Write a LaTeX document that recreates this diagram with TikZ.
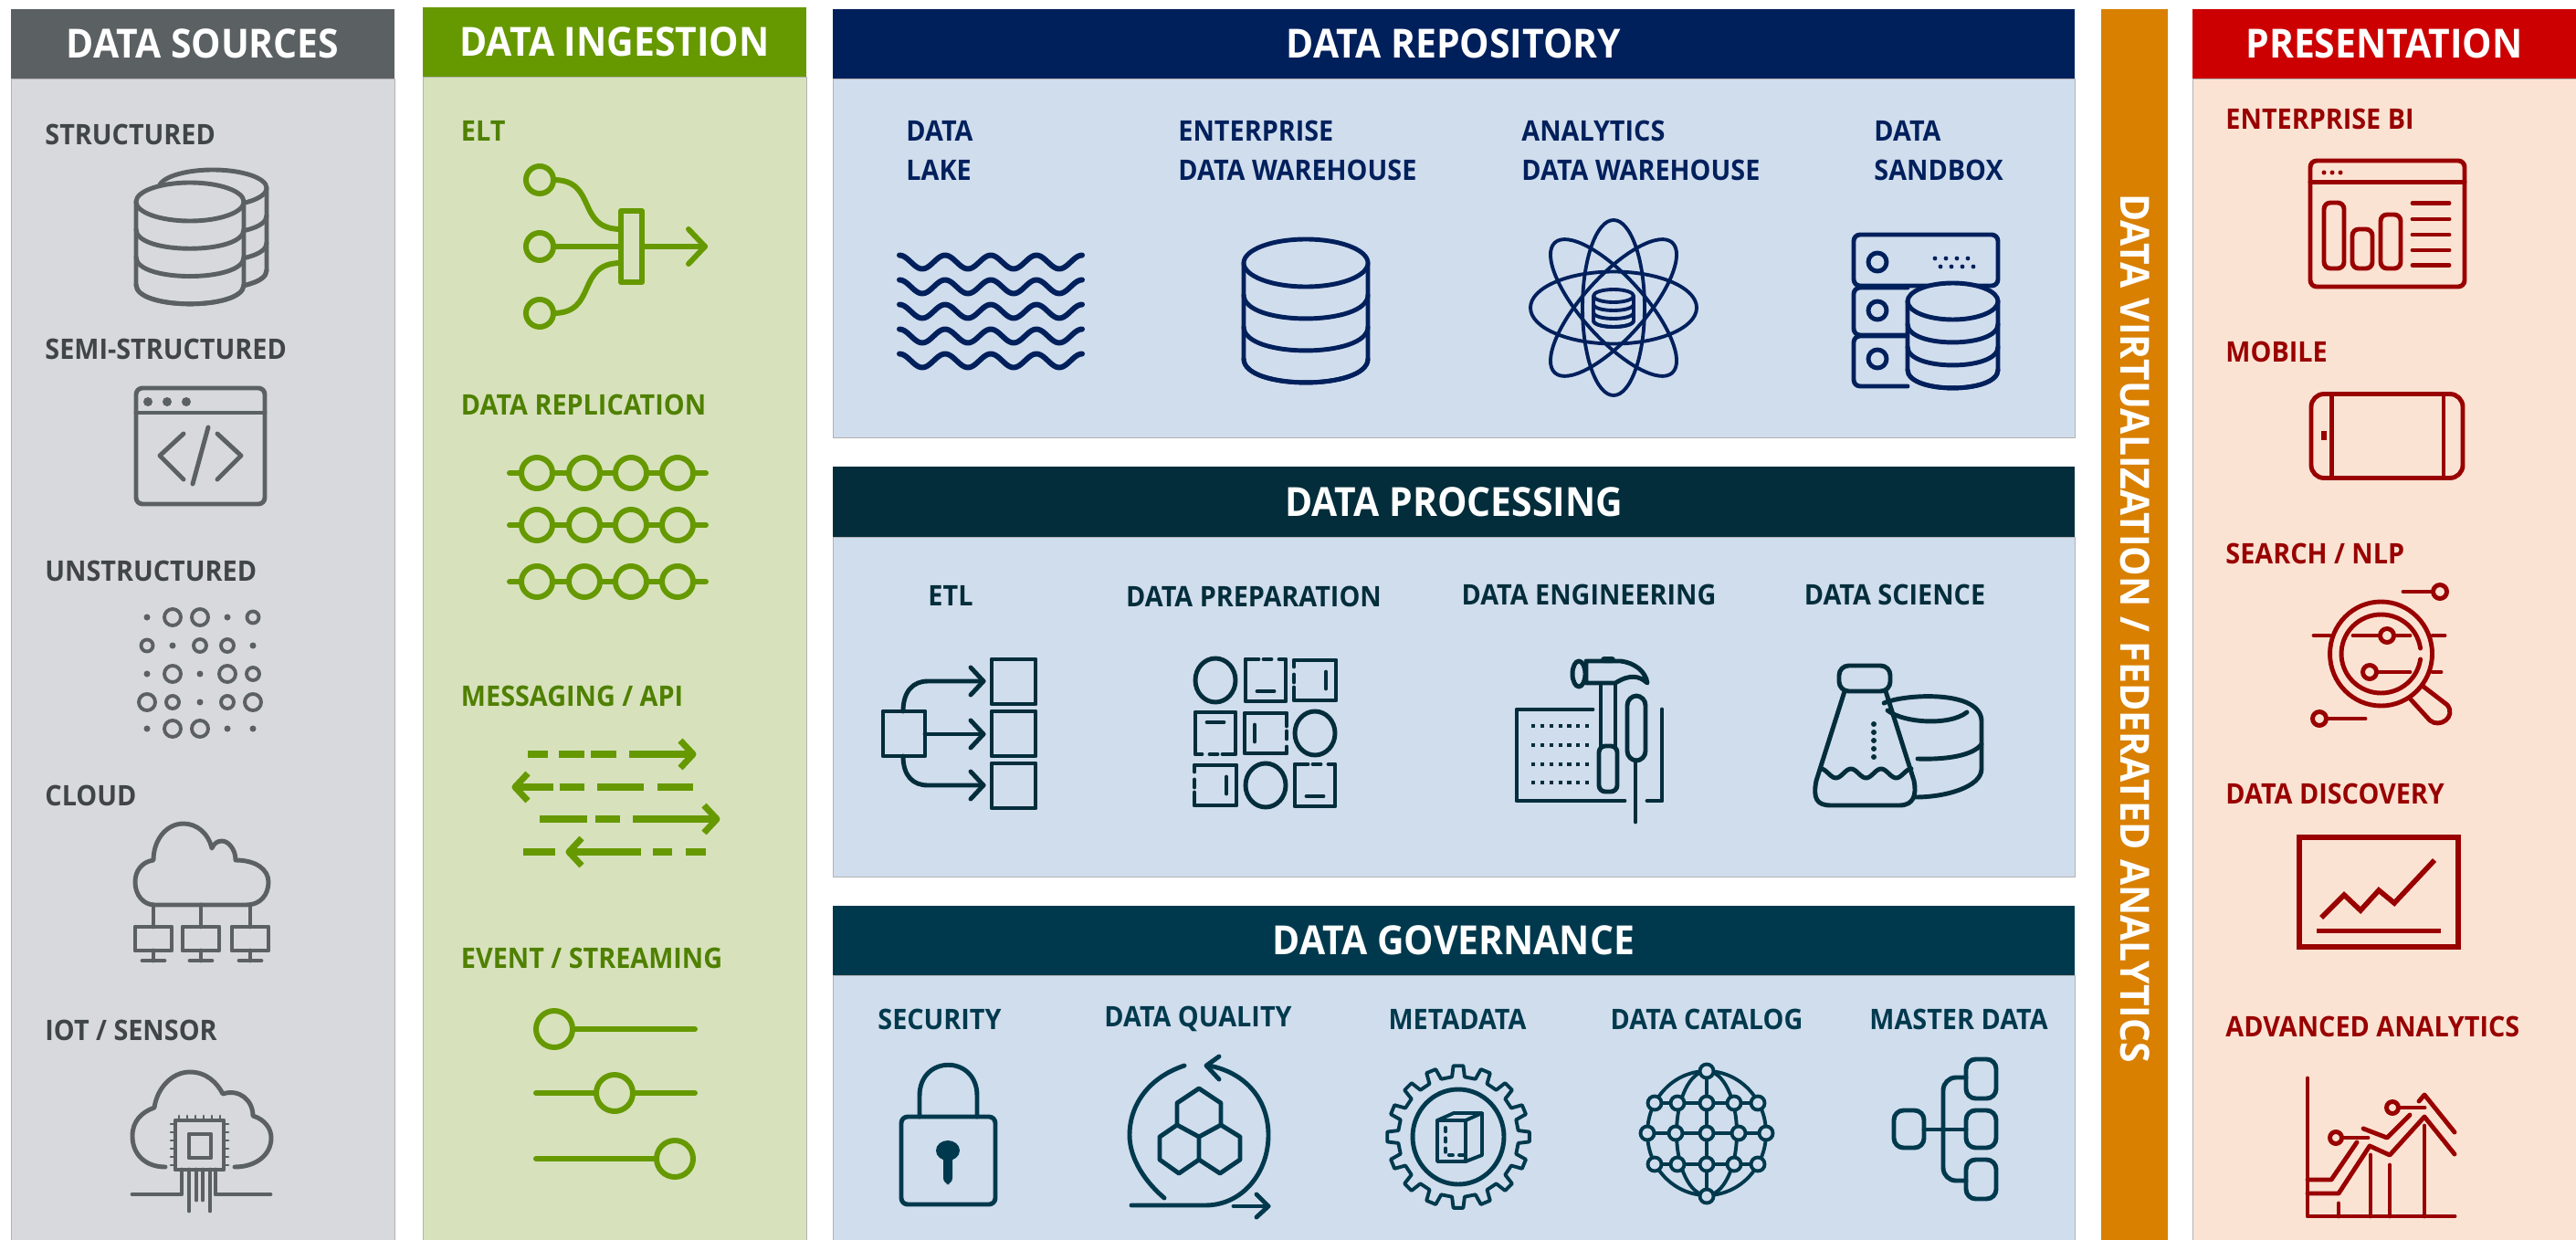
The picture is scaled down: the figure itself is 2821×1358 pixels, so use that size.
\documentclass[tikz,border=0pt]{standalone}
\usepackage{fontspec}
\setmainfont{Open Sans}
\newfontfamily\hdrfont{Open Sans}[FakeStretch=0.93]
\newfontfamily\lblfont{Open Sans}[FakeStretch=0.93]
\definecolor{srcdark}{HTML}{5B6063}
\definecolor{srcbody}{HTML}{D8D9DC}
\definecolor{srctext}{HTML}{404547}
\definecolor{ingdark}{HTML}{669900}
\definecolor{ingbody}{HTML}{D7E2BC}
\definecolor{ingtext}{HTML}{4F8000}
\definecolor{repdark}{HTML}{00205C}
\definecolor{midbody}{HTML}{D0DDED}
\definecolor{prodark}{HTML}{032D3B}
\definecolor{govdark}{HTML}{00394D}
\definecolor{virdark}{HTML}{D98000}
\definecolor{predark}{HTML}{CC0000}
\definecolor{prebody}{HTML}{FBE3D3}
\definecolor{pretext}{HTML}{990000}
\tikzset{
    hdr/.style={text=white, inner sep=0pt, font=\hdrfont\bfseries\fontsize{12.5}{14}\selectfont},
    lbl/.style={inner sep=0pt, anchor=west, font=\lblfont\bfseries\fontsize{8.8}{10}\selectfont},
    clbl/.style={lbl, anchor=center},
    panel/.style={draw=black!30, line width=.25pt},
    icon/.style={line width=1.4pt, line join=round, line cap=round},
}
% cylinder: [options]{cx}{top}{rx}{ry}{gap}{bands}
\newcommand{\dbcyl}[7][]{%
    \filldraw[#1] ({#2-#4},#3) -- ({#2-#4},{#3+#6*#7})
        .. controls ({#2-#4},{#3+#6*#7+1.33*#5}) and ({#2+#4},{#3+#6*#7+1.33*#5}) .. ({#2+#4},{#3+#6*#7})
        -- ({#2+#4},#3);
    \filldraw[#1] (#2,#3) ellipse ({#4} and {#5});
    \foreach \k in {1,...,#7} {
        \draw ({#2-#4},{#3+\k*#6})
            .. controls ({#2-#4},{#3+\k*#6+1.33*#5}) and ({#2+#4},{#3+\k*#6+1.33*#5}) .. ({#2+#4},{#3+\k*#6});
    }
}
\begin{document}
\begin{tikzpicture}[x=0.01cm, y=-0.01cm]
\useasboundingbox (0,0) rectangle (2821,1358);

% panels
\fill[white] (0,0) rectangle (2821,1358);
\draw[panel, fill=srcbody] (12,86) rectangle (432,1358);
\draw[panel, fill=ingbody] (463,84) rectangle (883,1358);
\draw[panel, fill=midbody] (912,86) rectangle (2272,479);
\draw[panel, fill=midbody] (912,588) rectangle (2272,960);
\draw[panel, fill=midbody] (912,1068) rectangle (2272,1358);
\draw[panel, fill=prebody] (2401,86) rectangle (2821,1358);
\fill[virdark] (2301,10) rectangle (2374,1358);

% headers
\node[hdr, fill=srcdark, minimum width=4.2cm, minimum height=.76cm] (srchead) at (222,48) {DATA SOURCES};
\node[hdr, fill=ingdark, minimum width=4.2cm, minimum height=.76cm] (inghead) at (673,46) {DATA INGESTION};
\node[hdr, fill=repdark, minimum width=13.6cm, minimum height=.76cm] (rephead) at (1592,48) {DATA REPOSITORY};
\node[hdr, fill=prodark, minimum width=13.6cm, minimum height=.77cm] (prohead) at (1592,549.5) {DATA PROCESSING};
\node[hdr, fill=govdark, minimum width=13.6cm, minimum height=.76cm] (govhead) at (1592,1030) {DATA GOVERNANCE};
\node[hdr, fill=predark, minimum width=4.2cm, minimum height=.76cm] (prehead) at (2611,48) {PRESENTATION};
\node[hdr, rotate=-90] (virhead) at (2338,688) {DATA VIRTUALIZATION / FEDERATED ANALYTICS};

% data sources
\begin{scope}[icon, color=srcdark, every node/.style={lbl, text=srctext}]
\node (structured) at (47,147) {STRUCTURED};
\node (semi) at (47,382) {SEMI-STRUCTURED};
\node (unstructured) at (47,625) {UNSTRUCTURED};
\node (cloud) at (47,871) {CLOUD};
\node (iot) at (47,1128) {IOT / SENSOR};
\dbcyl[fill=srcbody]{233}{206}{59}{20}{30}{3}
\dbcyl[fill=srcbody]{208}{221}{59}{21}{30.3}{3}
\draw[rounded corners=2pt] (149,425) rectangle (290,552);
\draw (149,452) -- (290,452);
\foreach \x in {162,183,204} \fill (\x,440) circle (5);
\draw (201,475) -- (175,499) -- (201,525);
\draw (238,475) -- (264,499) -- (238,525);
\draw (228,468) -- (211,530);
\foreach \x/\y/\r in {189/676/9,219/676/9,277/676/6.5,161/707/6.5,219/707/7,249/707/7,
    189/738/9,249/738/9,277/738/7,161/769/9,189/769/7,249/769/7,277/769/9,189/798/9,219/798/9}
    \draw[line width=1.1pt] (\x,\y) circle (\r);
\foreach \x/\y in {161/676,249/676,189/707,277/707,161/738,219/738,219/769,161/798,249/798,277/798}
    \fill (\x,\y) circle (3.5);
\draw (169,991) -- (270,991) .. controls (285,991) and (294,980) .. (294,966)
    .. controls (294,952) and (280,942) .. (258,942) .. controls (258,930) and (250,921) .. (243,921)
    .. controls (238,921) and (234,924) .. (232,929) .. controls (228,912) and (215,902) .. (201,902)
    .. controls (182,902) and (168,920) .. (168,942) .. controls (155,944) and (148,954) .. (148,966)
    .. controls (148,980) and (157,991) .. (169,991) -- cycle;
\foreach \x in {168,220,274} {
    \draw (\x,991) -- (\x,1015);
    \draw ({\x-20},1015) rectangle ({\x+20},1041);
    \draw (\x,1041) -- (\x,1052);
    \draw ({\x-12},1052) -- ({\x+12},1052);
}
\draw (181,1278) .. controls (160,1278) and (145,1265) .. (145,1244) .. controls (145,1228) and (155,1218) .. (169,1213)
    .. controls (172,1192) and (188,1174) .. (208,1174) .. controls (226,1174) and (238,1186) .. (244,1198)
    .. controls (262,1192) and (277,1205) .. (277,1222) .. controls (290,1226) and (297,1236) .. (297,1246)
    .. controls (297,1265) and (280,1278) .. (257,1278);
\draw (192,1227) rectangle (245,1281);
\draw (207,1242) rectangle (231,1268);
\foreach \k in {0,1,2,3,4,5} {
    \draw[line width=.8pt] ({196+9*\k},1222) -- ({196+9*\k},1227);
    \draw[line width=.8pt] (187,{1231+9*\k}) -- (192,{1231+9*\k});
    \draw[line width=.8pt] (245,{1231+9*\k}) -- (250,{1231+9*\k});
}
\draw (145,1308) -- (199,1308) -- (199,1281);
\draw (296,1308) -- (236,1308) -- (236,1281);
\draw (207,1281) -- (207,1326);
\draw (230,1281) -- (230,1326);
\draw (215,1281) -- (215,1314);
\draw (222,1281) -- (222,1314);
\end{scope}

% data ingestion
\begin{scope}[icon, line width=1.7pt, color=ingdark, every node/.style={lbl, text=ingtext}]
\node (elt) at (502,143) {ELT};
\node (replication) at (502,443) {DATA REPLICATION};
\node (messaging) at (502,762) {MESSAGING / API};
\node (streaming) at (502,1049) {EVENT / STREAMING};
\foreach \y in {197,270,343} \draw (591,\y) circle (15);
\draw (606,197) .. controls (655,197) and (630,251) .. (680,251);
\draw (606,270) -- (680,270);
\draw (606,343) .. controls (655,343) and (630,288) .. (680,288);
\draw (680,231) rectangle (703,309);
\draw (703,270) -- (772,270);
\draw (754,251) -- (772,270) -- (754,289);
\foreach \y in {518,575,637} {
    \draw (558,\y) -- (773,\y);
    \foreach \x in {588,640,691,742} \filldraw[fill=ingbody] (\x,\y) circle (17);
}
\begin{scope}[line width=2pt, line cap=butt]
\foreach \a/\b/\y in {578/600/826,612/640/826,647/675/826,689/759/826,564/606/862,613/640/862,654/705/862,720/759/862,
    591/643/897,652/679/897,693/785/897,573/608/933,623/702/933,715/736/933,751/773/933}
    \draw (\a,\y) -- (\b,\y);
\draw (745,811) -- (759,826) -- (745,841);
\draw (578,847) -- (564,862) -- (578,877);
\draw (771,882) -- (785,897) -- (771,912);
\draw (637,918) -- (623,933) -- (637,948);
\end{scope}
\foreach \a/\b/\y in {627/761/1127,587/761/1197,587/719/1269} \draw (\a,\y) -- (\b,\y);
\foreach \x/\y in {607/1127,673/1197,739/1269} \filldraw[fill=ingbody] (\x,\y) circle (20);
\end{scope}

% data repository
\begin{scope}[icon, color=repdark, every node/.style={lbl, text=repdark}]
\node (lake) at (990,143) {DATA};
\node (lake2) at (990,186) {LAKE};
\node (edw) at (1288,143) {ENTERPRISE};
\node (edw2) at (1288,186) {DATA WAREHOUSE};
\node (adw) at (1664,143) {ANALYTICS};
\node (adw2) at (1664,186) {DATA WAREHOUSE};
\node (sandbox) at (2050,143) {DATA};
\node (sandbox2) at (2050,186) {SANDBOX};
\foreach \y in {287,314,341,368,395}
    \draw[line width=1.7pt] plot[domain=0:4, samples=80] ({985+50*\x},{\y-7.5*cos(360*\x)});
\dbcyl[fill=midbody]{1430}{288}{68}{26}{35}{3}
\begin{scope}[line width=1.1pt]
\draw (1767,337) ellipse (91 and 39.5);
\draw (1767,337) ellipse (34 and 96);
\draw[rotate around={42:(1767,337)}] (1767,337) ellipse (34 and 96);
\draw[rotate around={-42:(1767,337)}] (1767,337) ellipse (34 and 96);
\dbcyl[fill=midbody]{1767}{324}{22}{7}{9}{3}
\end{scope}
\draw[rounded corners=2pt] (2030,257) rectangle (2188,313);
\draw[rounded corners=2pt] (2089,315) -- (2030,315) -- (2030,367) -- (2089,367);
\draw[rounded corners=2pt] (2089,368) -- (2030,368) -- (2030,423) -- (2089,423);
\foreach \y in {287,340,393} \draw (2056,\y) circle (10);
\foreach \k in {0,1,2,3} {
    \fill ({2119+12*\k},283) circle (2.4);
    \fill ({2125+12*\k},292) circle (2.4);
}
\dbcyl[fill=midbody]{2138.5}{330}{49.5}{20}{25}{3}
\end{scope}

% data processing
\begin{scope}[icon, color=prodark, every node/.style={clbl, text=prodark}]
\node (etl) at (1041,652) {ETL};
\node (prep) at (1373,653) {DATA PREPARATION};
\node (eng) at (1740,651) {DATA ENGINEERING};
\node (science) at (2075,651) {DATA SCIENCE};
\draw (967,779) rectangle (1013,828);
\foreach \y in {722,779,836} \draw (1086,\y) rectangle (1134,{\y+49});
\draw (1013,804) -- (1077,804);
\draw (989,779) .. controls (989,757) and (1000,746) .. (1016,746) -- (1077,746);
\draw (989,828) .. controls (989,850) and (1000,860) .. (1016,860) -- (1077,860);
\foreach \y in {746,804,860} \draw (1063,{\y-15}) -- (1077,\y) -- (1063,{\y+15});
\foreach \x/\y in {1331/745,1440/803,1386/860} \draw (\x,\y) ellipse (22 and 24);
\foreach \x/\y/\a in {1386/745/0,1440/860/0,1440/745/90,1331/860/90,1331/803/180,1386/803/-90} {
    \begin{scope}[shift={(\x,\y)}, rotate=\a]
    \draw (-8,-23) -- (-22,-23) -- (-22,23) -- (22,23) -- (22,-23) -- (15,-23);
    \draw (-2,-23) -- (6,-23);
    \draw (-9,12) -- (9,12);
    \end{scope}
}
\fill[rounded corners=1pt] (1753,719) rectangle (1769,726);
\draw (1737,724) -- (1775,724) .. controls (1790,726) and (1802,735) .. (1804,748)
    .. controls (1795,740) and (1785,738) .. (1769,748) -- (1737,748) -- cycle;
\draw (1729,738) ellipse (7 and 14);
\draw (1753,748) rectangle (1769,817);
\draw[rounded corners=2pt] (1751,817) rectangle (1771,867);
\draw[rounded corners=3pt] (1782,762) rectangle (1802,833);
\draw (1791,833) -- (1791,900);
\draw (1744,777) -- (1661,777) -- (1661,877) -- (1779,877);
\draw (1804,877) -- (1820,877) -- (1820,777);
\foreach \y in {795,816,837,857} \draw[dash pattern=on 1.2pt off 1.6pt, line cap=butt] (1677,\y) -- (1744,\y);
\draw (2063,770) .. controls (2085,760) and (2170,755) .. (2170,790) -- (2170,842) .. controls (2170,862) and (2130,873) .. (2098,873);
\draw (2067,778) .. controls (2085,792) and (2135,795) .. (2154,780);
\draw (2100,831) .. controls (2130,832) and (2160,828) .. (2170,815);
\draw[rounded corners=3pt] (2014,729) rectangle (2070,757);
\draw (2020,757) -- (1989,855) .. controls (1985,875) and (1990,882) .. (2005,882) -- (2080,882)
    .. controls (2096,882) and (2099,870) .. (2096,855) -- (2065,757);
\draw plot[domain=0:3, samples=50] ({1994+33*\x},{847-5*cos(360*\x)});
\foreach \y in {793,802,811,820,829} \fill (2052,\y) circle (3);
\end{scope}

% data governance
\begin{scope}[icon, color=govdark, every node/.style={clbl, text=govdark}]
\node (security) at (1029,1116) {SECURITY};
\node (quality) at (1312,1116) {DATA QUALITY};
\node (metadata) at (1596,1116) {METADATA};
\node (catalog) at (1869,1116) {DATA CATALOG};
\node (master) at (2145,1116) {MASTER DATA};
\draw[rounded corners=2pt] (987,1223) rectangle (1090,1319);
\draw (1007,1223) -- (1007,1200) .. controls (1007,1155) and (1070,1155) .. (1070,1200) -- (1070,1223);
\fill (1038,1260) ellipse (13 and 11);
\fill[rounded corners=2pt] (1033,1260) rectangle (1043,1297);
\draw (1297,1167) .. controls (1258,1180) and (1237,1210) .. (1237,1243) .. controls (1237,1270) and (1255,1295) .. (1275,1312);
\draw (1324,1167) .. controls (1365,1175) and (1389,1205) .. (1389,1243) .. controls (1389,1285) and (1360,1320) .. (1320,1320) -- (1239,1320);
\draw (1335,1157) -- (1321,1167) -- (1335,1182);
\draw (1351,1321) -- (1389,1321);
\draw (1376,1308) -- (1389,1321) -- (1376,1333);
\draw (1313,1192) -- (1337,1208) -- (1337,1232) -- (1313,1245) -- (1289,1232) -- (1289,1208) -- cycle;
\draw (1313,1245) -- (1313,1270) -- (1291,1285) -- (1270,1270) -- (1270,1245) -- (1289,1232);
\draw (1313,1270) -- (1336,1285) -- (1358,1270) -- (1358,1245) -- (1337,1232);
\draw[shift={(1597,1245)}, line width=1.1pt] (-6:66) foreach \a in {0,22.5,...,337.5} { -- ({\a-6}:66) -- ({\a-4}:78) -- ({\a+4}:78) -- ({\a+6}:66) } -- cycle;
\draw (1597,1245) ellipse (50 and 52);
\draw[line width=1.1pt] (1574,1227) -- (1592,1219) -- (1623,1219) -- (1623,1265) -- (1605,1272) -- (1574,1272) -- cycle;
\draw[line width=1.1pt] (1574,1227) -- (1605,1227) -- (1605,1272);
\draw[line width=1.1pt] (1605,1227) -- (1623,1219);
\draw[line width=1.1pt, dash pattern=on 1.2pt off 2pt] (1583,1235) -- (1583,1265) -- (1605,1265);
\draw[line width=1.1pt] (1869,1241) ellipse (65 and 68);
\draw[line width=1.1pt] (1869,1241) ellipse (33 and 68);
\draw[line width=1.1pt] (1869,1173) -- (1869,1310);
\foreach \y/\a/\b in {1208/1812/1925,1241/1804/1934,1275/1812/1925} \draw[line width=1.1pt] (\a,\y) -- (\b,\y);
\foreach \x/\y in {1869/1173,1869/1310,1812/1208,1837/1208,1869/1208,1899/1208,1925/1208,
    1804/1241,1835/1241,1869/1241,1904/1241,1934/1241,1812/1275,1837/1275,1869/1275,1899/1275,1925/1275}
    \filldraw[fill=midbody, line width=1.1pt] (\x,\y) circle (7.5);
\foreach \a/\b in {1160/1203,1216/1257,1270/1313} \draw[rounded corners=3pt] (2153,\a) rectangle (2186,\b);
\draw[rounded corners=3pt] (2074,1216) rectangle (2107,1257);
\draw (2107,1237) -- (2153,1237);
\draw[rounded corners=4pt] (2153,1180) -- (2128,1180) -- (2128,1293) -- (2153,1293);
\end{scope}

% presentation
\begin{scope}[icon, color=pretext, every node/.style={lbl, text=pretext}]
\node (bi) at (2435,130) {ENTERPRISE BI};
\node (mobile) at (2435,385) {MOBILE};
\node (search) at (2435,606) {SEARCH / NLP};
\node (discovery) at (2435,869) {DATA DISCOVERY};
\node (advanced) at (2435,1124.5) {ADVANCED ANALYTICS};
\draw[rounded corners=2pt] (2530,176) rectangle (2699,314);
\draw (2530,199.5) -- (2699,199.5);
\foreach \x in {2545,2554,2563} \fill (\x,189) circle (2.5);
\foreach \a/\b/\t in {2545/2567/222,2576/2598/251,2607/2629/235} \draw[rounded corners=2pt] (\a,\t) rectangle (\b,294);
\foreach \y in {222.5,240,257,274,290.5} \draw (2642,\y) -- (2682,\y);
\draw[rounded corners=4pt] (2531,431.5) rectangle (2697,523.5);
\draw (2553.5,431.5) -- (2553.5,523.5);
\draw (2676,431.5) -- (2676,523.5);
\fill (2542,472) rectangle (2548,482);
\draw (2607.5,716) ellipse (56 and 57);
\draw[shift={(2607.5,716)}] plot[domain=8:352, samples=60] ({43.5*cos(\x)},{43*sin(\x)});
\draw (2577,696) -- (2639,696);
\draw (2595,736) -- (2639,736);
\draw (2590,787) -- (2548,787);
\draw (2632,648) -- (2663,648);
\draw (2534,696) -- (2551,696);
\draw (2664,696) -- (2677,696);
\draw (2664,736) -- (2673,736);
\foreach \x/\y in {2614/696,2595/736,2540/787,2672/648} \filldraw[fill=prebody] (\x,\y) circle (7.5);
\draw (2640,766) -- (2661,789) .. controls (2672,798) and (2690,785) .. (2680,772) -- (2654,752);
\draw[line cap=butt, line width=1.6pt, line join=miter] (2518,917) rectangle (2692,1037);
\draw[line cap=butt, line width=1.6pt] (2537,1019.5) -- (2673,1019.5);
\draw[line cap=butt, line width=1.6pt, line join=miter] (2542,1005) -- (2567,980) -- (2585,997) -- (2605,975) -- (2622,989) -- (2666,942);
\draw (2527,1181) -- (2527,1332) -- (2688,1332);
\foreach \x/\y in {2561/1318,2596/1265,2617/1276,2655/1233} \draw (\x,\y) -- (\x,1332);
\draw (2527,1292) -- (2553,1292) -- (2581,1251);
\draw (2588,1236) -- (2614,1246) -- (2639,1221);
\draw (2649,1206) -- (2655,1199) -- (2688,1240);
\draw (2527,1307) -- (2561,1307) -- (2595,1255) -- (2617,1265) -- (2655,1223) -- (2688,1264);
\draw (2558,1246) -- (2593,1246);
\draw (2620,1213) -- (2655,1213);
\foreach \x/\y in {2558/1246,2620/1213} \filldraw[fill=prebody] (\x,\y) circle (6.5);
\end{scope}
\end{tikzpicture}
\end{document}
